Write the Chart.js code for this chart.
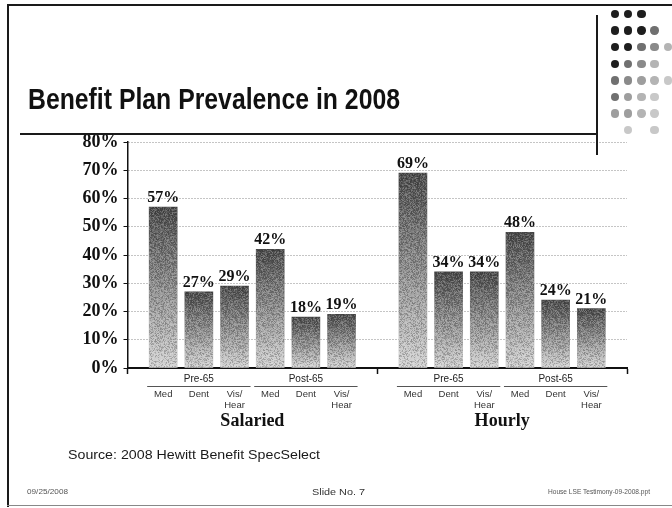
<!DOCTYPE html>
<html>
<head>
<meta charset="utf-8">
<script src="https://cdn.jsdelivr.net/npm/chart.js@4.4.1/dist/chart.umd.min.js"></script>
<style>
  html, body { margin: 0; padding: 0; background: #fff; }
  #slide { position: relative; width: 672px; height: 508px; overflow: hidden; background: #fff; }
  #chart { position: absolute; left: 0; top: 0; }
  .txt { position: absolute; white-space: nowrap; transform-origin: 0 0; font-family: "Liberation Sans", Arial, sans-serif; color: #111; line-height: 1; }
  .line { position: absolute; background: #1a1a1a; }
  .dot { position: absolute; border-radius: 50%; }
</style>
</head>
<body>
<div id="slide">
  <canvas id="chart" width="672" height="508"></canvas>
  <div class="line" style="left:7px;top:4px;width:2px;height:503px;"></div>
  <div class="line" style="left:7px;top:4px;width:665px;height:2px;"></div>
  <div class="line" style="left:7px;top:505px;width:665px;height:1px;background:#888;"></div>
  <div class="line" style="left:20px;top:133px;width:577px;height:1.5px;"></div>
  <div class="line" style="left:596px;top:15px;width:1.5px;height:140px;"></div>
  <div id="title" class="txt" style="left:28px;top:84px;font-size:30px;font-weight:bold;">Benefit Plan Prevalence in 2008</div>
  <div id="source" class="txt" style="left:68px;top:449px;font-size:12.5px;color:#1a1a1a;">Source: 2008 Hewitt Benefit SpecSelect</div>
  <div id="date" class="txt" style="left:27px;top:488px;font-size:7.5px;color:#555;">09/25/2008</div>
  <div id="slideno" class="txt" style="left:312px;top:487px;font-size:9.5px;color:#333;">Slide No. 7</div>
  <div id="file" class="txt" style="left:548px;top:488px;font-size:7.5px;color:#555;">House LSE Testimony-09-2008.ppt</div>
</div>
<script>
// Plan prevalence (percent of employers offering retiree coverage)
const planTypes = ['Med', 'Dent', 'Vis/\nHear'];
const ageGroups = ['Pre-65', 'Post-65'];
const employeeGroups = ['Salaried', 'Hourly'];
const salariedPre65 = [57, 27, 29];
const salariedPost65 = [42, 18, 19];
const hourlyPre65 = [69, 34, 34];
const hourlyPost65 = [48, 24, 21];
const yTickValues = [0, 10, 20, 30, 40, 50, 60, 70, 80];

// Slot layout along the category axis: an empty slot at each end and between the two employee groups
const blocks = [[salariedPre65, salariedPost65], [hourlyPre65, hourlyPost65]];
const slotLabels = [''];
const slotValues = [null];
const ageSpans = [];      // {label, first, last}
const groupSpans = [];    // {label, first, last}
blocks.forEach((block, gi) => {
  const gFirst = slotLabels.length;
  block.forEach((vals, ai) => {
    const aFirst = slotLabels.length;
    vals.forEach((v, pi) => {
      slotLabels.push(planTypes[pi].split('\n'));
      slotValues.push(v);
    });
    ageSpans.push({ label: ageGroups[ai], first: aFirst, last: slotLabels.length - 1 });
  });
  groupSpans.push({ label: employeeGroups[gi], first: gFirst, last: slotLabels.length - 1 });
  slotLabels.push('');
  slotValues.push(null);
});
const dividerSlots = [0, slotLabels.length - 1];
groupSpans.forEach(g => { if (g.last + 1 < slotLabels.length - 1) dividerSlots.push(g.last + 1); });

// Fine grain laid over the shaded bars
function makeGrain() {
  const c = document.createElement('canvas');
  c.width = 64; c.height = 64;
  const g = c.getContext('2d');
  const img = g.createImageData(64, 64);
  let s = 12345;
  for (let i = 0; i < 64 * 64; i++) {
    s = (s * 1103515245 + 12345) & 0x7fffffff;
    const n = (s >> 8) & 255;
    const light = n > 127;
    img.data[i * 4] = img.data[i * 4 + 1] = img.data[i * 4 + 2] = light ? 255 : 0;
    img.data[i * 4 + 3] = Math.abs(n - 128) * 0.5;
  }
  g.putImageData(img, 0, 0);
  return c;
}
const grainCanvas = makeGrain();

const SERIF = '"Liberation Serif", "Times New Roman", serif';
const SANS = '"Liberation Sans", Arial, sans-serif';

const barOverlay = {
  id: 'barOverlay',
  afterDatasetsDraw(chart) {
    const ctx = chart.ctx;
    const meta = chart.getDatasetMeta(0);
    const pattern = ctx.createPattern(grainCanvas, 'repeat');
    ctx.save();
    meta.data.forEach((el, i) => {
      const v = slotValues[i];
      if (v == null) return;
      const p = el.getProps(['x', 'y', 'base', 'width'], true);
      ctx.fillStyle = pattern;
      ctx.fillRect(p.x - p.width / 2, p.y, p.width, p.base - p.y);
      ctx.fillStyle = '#111';
      ctx.font = 'bold 16px ' + SERIF;
      ctx.textAlign = 'center';
      ctx.textBaseline = 'alphabetic';
      ctx.fillText(v + '%', p.x, p.y - 5);
    });
    ctx.restore();
  }
};

const groupLabels = {
  id: 'groupLabels',
  afterDraw(chart) {
    const ctx = chart.ctx;
    const x = chart.scales.x;
    ctx.save();
    ctx.textAlign = 'center';
    ctx.textBaseline = 'middle';
    ageSpans.forEach(s => {
      const a = x.getPixelForValue(s.first), b = x.getPixelForValue(s.last);
      ctx.fillStyle = '#222';
      ctx.font = '10px ' + SANS;
      ctx.fillText(s.label, (a + b) / 2, 379);
      ctx.strokeStyle = '#555';
      ctx.lineWidth = 1;
      ctx.beginPath();
      ctx.moveTo(a - 16, 386.5);
      ctx.lineTo(b + 16, 386.5);
      ctx.stroke();
    });
    groupSpans.forEach(s => {
      const a = x.getPixelForValue(s.first), b = x.getPixelForValue(s.last);
      ctx.fillStyle = '#111';
      ctx.font = 'bold 18px ' + SERIF;
      ctx.fillText(s.label, (a + b) / 2, 421);
    });
    ctx.restore();
  }
};

new Chart(document.getElementById('chart'), {
  type: 'bar',
  data: {
    labels: slotLabels,
    datasets: [{
      data: slotValues,
      barThickness: 28,
      borderWidth: 0,
      backgroundColor(ctx) {
        const chart = ctx.chart;
        if (!chart.chartArea || ctx.raw == null) return '#999';
        const top = chart.scales.y.getPixelForValue(ctx.raw);
        const bottom = chart.scales.y.getPixelForValue(0);
        const g = chart.ctx.createLinearGradient(0, top, 0, bottom);
        g.addColorStop(0, '#4a4a4a');
        g.addColorStop(1, '#d4d4d4');
        return g;
      }
    }]
  },
  options: {
    responsive: false,
    animation: false,
    layout: { padding: { left: 0, right: 45, top: 142, bottom: 79 } },
    plugins: { legend: { display: false }, tooltip: { enabled: false } },
    scales: {
      x: {
        offset: false,
        grid: {
          offset: false,
          drawOnChartArea: false,
          drawTicks: true,
          tickLength: 6,
          tickWidth: 1.5,
          color: c => dividerSlots.includes(c.index) ? '#111' : 'rgba(0,0,0,0)',
          tickColor: c => dividerSlots.includes(c.index) ? '#111' : 'rgba(0,0,0,0)'
        },
        border: { display: true, color: '#111', width: 2 },
        ticks: {
          autoSkip: false,
          maxRotation: 0,
          padding: 15,
          color: '#333',
          font: { family: SANS, size: 9.5, lineHeight: 1.15 }
        },
        afterFit(scale) { scale.height = 61; }
      },
      y: {
        min: 0,
        max: 80,
        afterBuildTicks(scale) { scale.ticks = yTickValues.map(v => ({ value: v })); },
        grid: {
          color: c => c.tick && c.tick.value === 0 ? 'rgba(0,0,0,0)' : '#8a8a8a',
          lineWidth: 1,
          tickColor: '#111',
          tickLength: 4,
          tickBorderDash: []
        },
        border: { display: true, color: '#111', width: 1.5, dash: [1, 2] },
        ticks: {
          padding: 5,
          color: '#111',
          font: { family: SERIF, size: 18, weight: 'bold' },
          callback: v => v + '%'
        },
        afterFit(scale) { scale.width = 127.5; }
      }
    }
  },
  plugins: [barOverlay, groupLabels]
});

// Decorative dot cluster in the top-right corner
const dotRows = ['000', '0003', '00346', '0346', '34567', '3567', '5567', ' 7 7'];
const dotShades = { '0': '#1e1e1e', '3': '#707070', '4': '#8a8a8a', '5': '#9e9e9e', '6': '#b4b4b4', '7': '#c8c8c8' };
const slide = document.getElementById('slide');
dotRows.forEach((row, r) => {
  [...row].forEach((ch, c) => {
    if (ch === ' ') return;
    const d = document.createElement('div');
    d.className = 'dot';
    const cx = 615 + c * 13.2, cy = 14 + r * 16.6, rad = 4.2;
    d.style.cssText = `left:${cx - rad}px;top:${cy - rad}px;width:${rad * 2}px;height:${rad * 2}px;background:${dotShades[ch]};`;
    slide.appendChild(d);
  });
});

// Horizontal fitting of the slide texts
function fitWidth(id, w) {
  const el = document.getElementById(id);
  const cur = el.getBoundingClientRect().width;
  el.style.transform = `scaleX(${w / cur})`;
}
fitWidth('title', 372);
fitWidth('source', 252);
fitWidth('date', 41);
fitWidth('slideno', 53);
fitWidth('file', 102);
</script>
</body>
</html>
